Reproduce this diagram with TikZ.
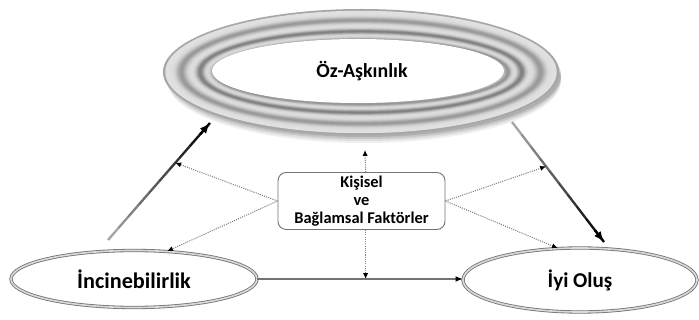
\documentclass[tikz,border=0pt]{standalone}
\usepackage{fontspec}
\setmainfont{Carlito}
\usetikzlibrary{shapes.geometric, arrows.meta, positioning, calc}

\pgfdeclareradialshading{ovalfill}{\pgfpoint{0bp}{0bp}}{color(0bp)=(white); color(36bp)=(white); color(50bp)=(black!22)}
\pgfdeclareradialshading{holefill}{\pgfpoint{0bp}{0bp}}{color(0bp)=(white); color(40bp)=(white); color(50bp)=(black!45)}

\begin{document}
\begin{tikzpicture}[x=0.03cm, y=-0.03cm,
  oval/.style={ellipse, draw=black!55, double=black!15, double distance=1.4pt, line width=0.7pt, shading=ovalfill, inner sep=0pt, font=\bfseries\fontsize{19}{22}\selectfont},
  factorbox/.style={draw=black!55, line width=0.8pt, rounded corners=7pt, fill=white, align=center, minimum width=5.01cm, minimum height=1.71cm, inner sep=1pt, font=\bfseries\fontsize{14}{15.2}\selectfont},
  dotarrow/.style={draw=black!50, densely dotted, line width=0.9pt, -{Latex[length=5pt, width=4.5pt, color=black]}},
  thickarrow/.style={line width=2pt, line cap=butt}
]
  \useasboundingbox (0,0) rectangle (699,320);

  % soft shadow and rings of the top ellipse
  \foreach \dy/\op in {9/0.06, 7/0.08, 5/0.10, 3/0.12}
    \fill[black, opacity=\op] (364,72+\dy) ellipse [x radius=197, y radius=62];
  \fill[black!35] (361,72) ellipse [x radius=198, y radius=63];
  \foreach \i in {1,...,40} {
    \pgfmathsetmacro\t{\i/40}
    \pgfmathsetmacro\g{12+28*exp(-((\t-0.32)/0.1)^2)+38*exp(-((\t-0.68)/0.08)^2)+30*exp(-((\t-0.95)/0.07)^2)}
    \pgfmathsetmacro\rx{197-52*\t}
    \pgfmathsetmacro\ry{62-31*\t}
    \fill[black!\g] (361,72) ellipse [x radius=\rx, y radius=\ry];
  }
  \shade[shading=holefill] (358,71) ellipse [x radius=146, y radius=32];

  % nodes
  \node[ellipse, inner sep=0pt, minimum width=8.7cm, minimum height=1.86cm, font=\bfseries\fontsize{17}{19}\selectfont] (self) at (362,71) {Öz-Aşkınlık};
  \node[oval, minimum width=7.38cm, minimum height=1.71cm] (inc) at (134,279) {İncinebilirlik};
  \node[oval, minimum width=7.02cm, minimum height=1.92cm, font=\bfseries\fontsize{18}{21}\selectfont] (wb) at (580,280) {İyi Oluş};
  \node[factorbox] (fac) at (361.5,201) {Kişisel\\ve\\Bağlamsal Faktörler};

  % free ends of the connectors
  \coordinate (incS) at (108,240);
  \coordinate (selfW) at (210,123);
  \coordinate (selfE) at (512,122);
  \coordinate (wbN) at (604,242);
  \coordinate (selfS) at (365,150);

  % thick gradient arrows
  \foreach \i in {0,...,9} {
    \pgfmathsetmacro\s{\i/10}
    \pgfmathsetmacro\e{(\i+1)/10}
    \pgfmathsetmacro\g{35+65*\i/9}
    \draw[thickarrow, black!\g] ($(incS)!\s!(selfW)$) -- ($(incS)!\e!(selfW)$);
    \draw[thickarrow, black!\g] ($(selfE)!\s!(wbN)$) -- ($(selfE)!\e!(wbN)$);
  }
  \draw[thickarrow, -{Latex[length=9pt, width=7pt]}] ($(incS)!0.9!(selfW)$) -- (selfW);
  \draw[thickarrow, -{Latex[length=9pt, width=7pt]}] ($(selfE)!0.9!(wbN)$) -- (wbN);

  % dotted arrows from the factors
  \draw[dotarrow] (fac.west) -- ($(incS)!0.66!(selfW)$);
  \draw[dotarrow] (fac.west) -- (inc.40);
  \draw[dotarrow] (fac.east) -- ($(selfE)!0.37!(wbN)$);
  \draw[dotarrow] (fac.east) -- (wb.125);
  \draw[dotarrow] ([xshift=3.5pt]fac.north) -- (selfS);
  \draw[dotarrow] ([xshift=3.5pt]fac.south) -- ([xshift=3.5pt]fac.south |- inc.east);

  % direct path
  \draw[draw=black!55, line width=0.9pt, -{Latex[length=6pt, width=5pt, color=black]}] (inc.east) -- (inc.east -| wb.west);
\end{tikzpicture}
\end{document}
